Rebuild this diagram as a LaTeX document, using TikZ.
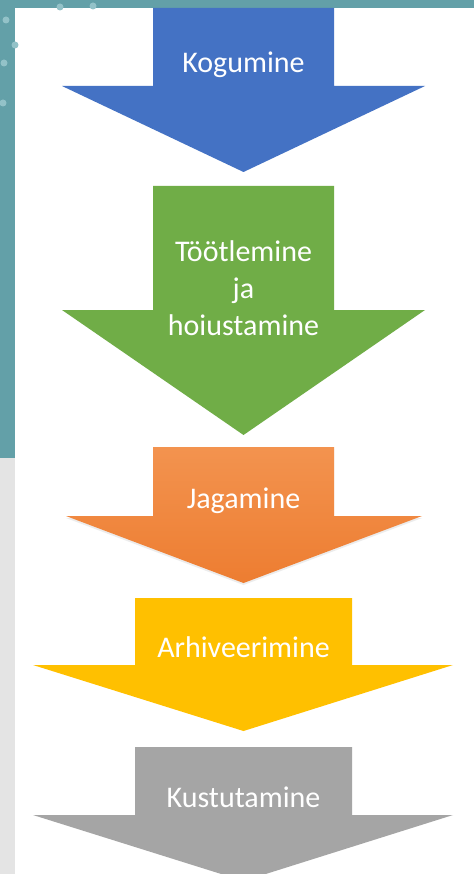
\documentclass[tikz,border=0pt]{standalone}
\usepackage{fontspec}
\setmainfont{Carlito}
\usetikzlibrary{shadows}
\definecolor{teal1}{HTML}{63A0A8}
\definecolor{tealdot}{HTML}{93C2C8}
\definecolor{sidegray}{HTML}{E4E4E4}
\definecolor{blue1}{HTML}{4472C4}
\definecolor{green1}{HTML}{70AD47}
\definecolor{orange1}{HTML}{ED7D31}
\definecolor{orange2}{HTML}{F3934F}
\definecolor{yellow1}{HTML}{FFC000}
\definecolor{gray1}{HTML}{A5A5A5}
\tikzset{
    x=1pt, y=-1pt, % one unit per pixel of the reference, y going down
    stage/.style={text=white, align=center, font=\fontsize{30}{37}\selectfont}, % label of each step
    dot/.style={fill=tealdot}, % the small spots on the teal border
    %stage/.append style={draw}, % shows the node boxes when placing them
}

\begin{document}
\begin{tikzpicture}
  \clip (0,0) rectangle (474,874);
  % background of the slide
  \fill[white] (0,0) rectangle (474,874);
  \fill[teal1] (0,0) rectangle (474,8);
  \fill[teal1] (0,0) rectangle (15,458);
  \fill[sidegray] (0,458) rectangle (15,874);
  \path[dot] (6,20) circle[radius=3.5pt] (4,63) circle[radius=3.5pt]
             (3,103) circle[radius=3.5pt] (60,7) circle[radius=3.5pt]
             (93,6) circle[radius=3.5pt] (15,45) circle[radius=3.5pt];

  % Arrows
  \fill[blue1] (153,8) -- (334,8) -- (334,86) -- (425,86) -- (243.5,172)
               -- (62,86) -- (153,86) -- cycle;
  \fill[green1] (153,186) -- (334,186) -- (334,310) -- (425,310) -- (243.5,435)
               -- (62,310) -- (153,310) -- cycle;
  \shade[top color=orange2,bottom color=orange1,
         drop shadow={opacity=0.15,shadow xshift=0pt,shadow yshift=-2pt}]
               (153,447) -- (334,447) -- (334,516) -- (422,516) -- (243.5,583)
               -- (66,516) -- (153,516) -- cycle;
  \fill[yellow1] (135,598) -- (352,598) -- (352,665) -- (453,665) -- (243.5,731)
               -- (33,665) -- (135,665) -- cycle;
  \fill[gray1] (135,747) -- (352,747) -- (352,815) -- (453,815) -- (243.5,881)
               -- (33,815) -- (135,815) -- cycle;

  \node[stage,anchor=base] (kog) at (243.5,73) {Kogumine};
  \node[stage] (tootl) at (243.5,288) {Töötlemine\\ja\\hoiustamine};
  \node[stage,anchor=base] (jag) at (243.5,508) {Jagamine};
  \node[stage,anchor=base] (arh) at (243.5,657) {Arhiveerimine};
  \node[stage,anchor=base] (kust) at (243.5,807) {Kustutamine};
\end{tikzpicture}
\end{document}
